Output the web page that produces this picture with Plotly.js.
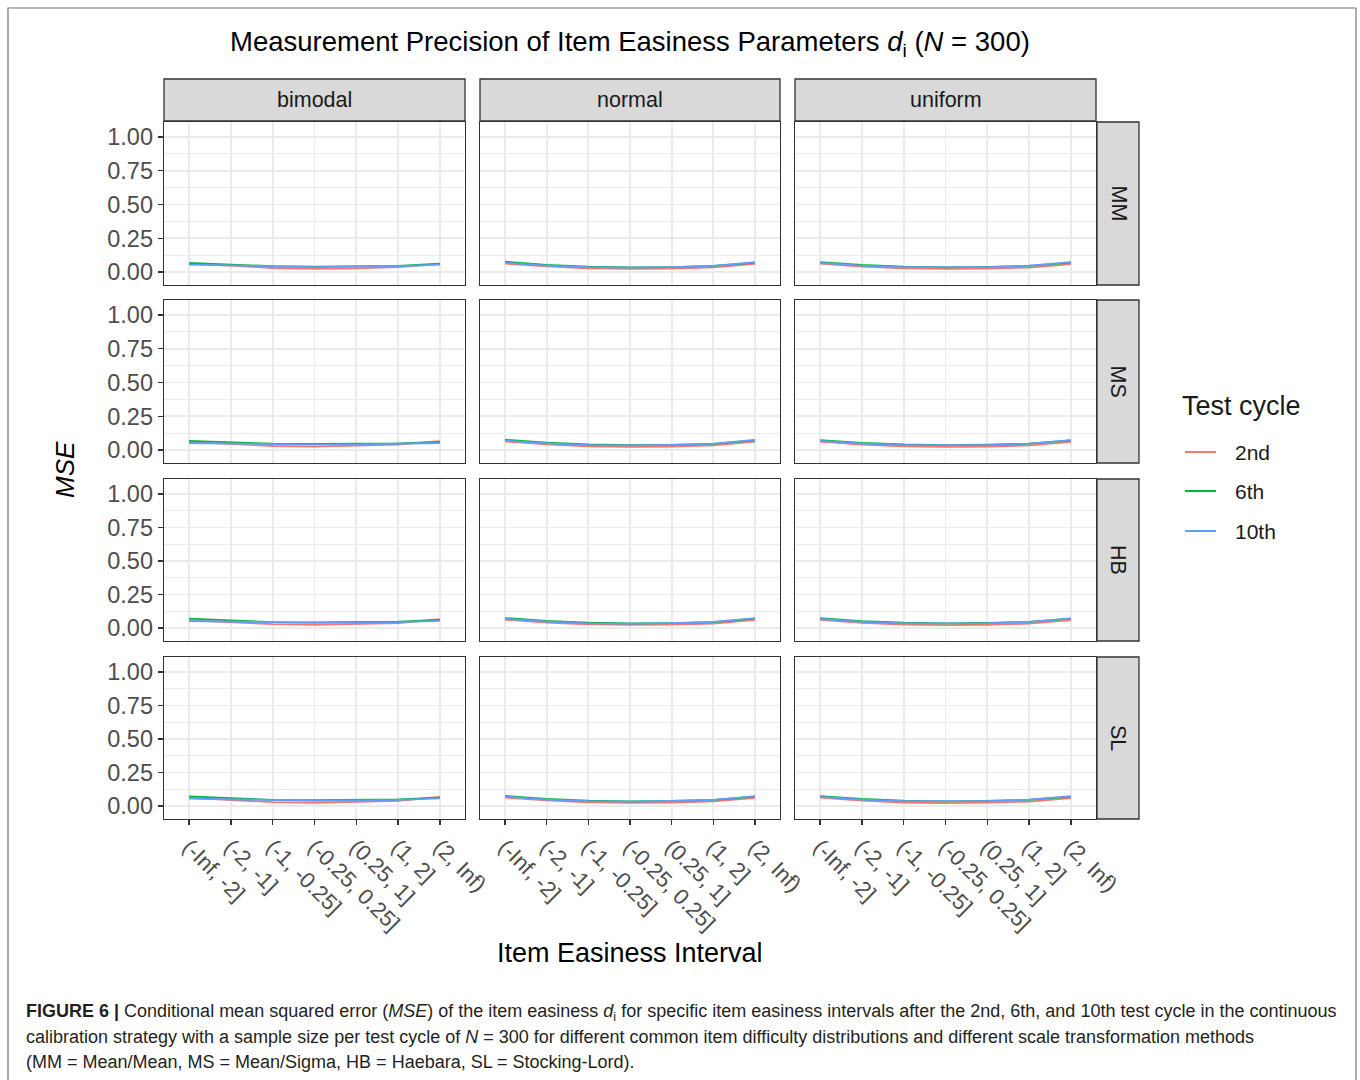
<!DOCTYPE html>
<html>
<head>
<meta charset="utf-8">
<script src="https://cdn.plot.ly/plotly-3.0.1.min.js"></script>
<style>html,body{margin:0;padding:0;background:#fff;}#chart{width:1360px;height:1080px;}</style>
</head>
<body>
<div id="chart"></div>
<script>
// ---- data ----
const categories = ["(-Inf, -2]", "(-2, -1]", "(-1, -0.25]", "(-0.25, 0.25]", "(0.25, 1]", "(1, 2]", "(2, Inf)"];
const cycles = ["2nd", "6th", "10th"];
const distributions = ["bimodal", "normal", "uniform"];
const methods = ["MM", "MS", "HB", "SL"];
const yTicks = [0, 0.25, 0.5, 0.75, 1.0];
const yTickLabels = ["0.00", "0.25", "0.50", "0.75", "1.00"];

// each: [2nd, 6th, 10th]
const MM_bimodal = [[0.060,0.048,0.030,0.024,0.027,0.036,0.060],[0.068,0.053,0.043,0.040,0.043,0.046,0.063],[0.055,0.049,0.040,0.037,0.040,0.043,0.055]];
const MM_normal  = [[0.063,0.042,0.028,0.024,0.026,0.034,0.060],[0.076,0.053,0.040,0.035,0.037,0.045,0.070],[0.069,0.048,0.036,0.033,0.037,0.046,0.074]];
const MM_uniform = [[0.062,0.040,0.027,0.023,0.025,0.033,0.058],[0.074,0.052,0.040,0.035,0.038,0.046,0.070],[0.068,0.047,0.036,0.034,0.037,0.047,0.073]];
const MS_bimodal = [[0.060,0.045,0.030,0.025,0.030,0.040,0.066],[0.068,0.055,0.047,0.045,0.047,0.050,0.060],[0.052,0.048,0.042,0.040,0.042,0.045,0.052]];
const MS_normal  = [[0.064,0.042,0.028,0.024,0.026,0.035,0.062],[0.076,0.054,0.041,0.036,0.038,0.046,0.071],[0.070,0.049,0.037,0.034,0.038,0.047,0.075]];
const MS_uniform = [[0.062,0.041,0.027,0.023,0.026,0.034,0.060],[0.074,0.053,0.041,0.036,0.039,0.047,0.071],[0.068,0.048,0.037,0.035,0.038,0.048,0.074]];
const HB_bimodal = [[0.058,0.046,0.030,0.024,0.029,0.038,0.066],[0.070,0.055,0.045,0.043,0.045,0.048,0.062],[0.053,0.048,0.041,0.039,0.041,0.044,0.054]];
const HB_normal  = [[0.063,0.042,0.028,0.024,0.026,0.034,0.061],[0.075,0.053,0.040,0.035,0.037,0.045,0.070],[0.069,0.048,0.036,0.033,0.037,0.046,0.074]];
const HB_uniform = [[0.062,0.040,0.027,0.023,0.025,0.033,0.059],[0.074,0.052,0.040,0.035,0.038,0.046,0.070],[0.068,0.047,0.036,0.034,0.037,0.047,0.073]];
const SL_bimodal = [[0.062,0.047,0.030,0.024,0.030,0.040,0.068],[0.072,0.057,0.047,0.044,0.046,0.050,0.064],[0.056,0.050,0.042,0.040,0.042,0.046,0.058]];
const SL_normal  = [[0.064,0.043,0.028,0.024,0.026,0.035,0.062],[0.076,0.054,0.041,0.036,0.038,0.046,0.071],[0.070,0.049,0.037,0.034,0.038,0.047,0.075]];
const SL_uniform = [[0.063,0.041,0.027,0.023,0.026,0.034,0.060],[0.075,0.053,0.041,0.036,0.039,0.047,0.071],[0.069,0.048,0.037,0.035,0.038,0.048,0.074]];

const panelData = {
  MM: [MM_bimodal, MM_normal, MM_uniform],
  MS: [MS_bimodal, MS_normal, MS_uniform],
  HB: [HB_bimodal, HB_normal, HB_uniform],
  SL: [SL_bimodal, SL_normal, SL_uniform]
};

// ---- styling / geometry ----
const W = 1360, H = 1080;
const colors = ["#F8766D", "#00BA38", "#619CFF"];
const colPx = [[164, 465], [480, 780], [795, 1096]];
const rowPx = [[122, 285], [300, 463], [479, 641], [657, 819]];
const stripTop = [79, 121];
const stripRight = [1097, 1139];
const px = v => v / W;
const py = v => 1 - v / H;
const FONT = "Liberation Sans, Arial, Helvetica, sans-serif";
const dark = "#333333";

const traces = [];
const layout = {
  width: W, height: H,
  margin: {l: 0, r: 0, t: 0, b: 0},
  paper_bgcolor: "#ffffff",
  plot_bgcolor: "#ffffff",
  font: {family: FONT, color: "#1a1a1a"},
  showlegend: false,
  shapes: [],
  annotations: []
};

methods.forEach((m, r) => {
  distributions.forEach((d, c) => {
    const n = r * 3 + c + 1;
    const xa = n === 1 ? "xaxis" : "xaxis" + n;
    const ya = n === 1 ? "yaxis" : "yaxis" + n;
    const xr = n === 1 ? "x" : "x" + n;
    const yr = n === 1 ? "y" : "y" + n;
    const isBottom = r === methods.length - 1;
    const isLeft = c === 0;
    layout[xa] = {
      domain: [px(colPx[c][0]), px(colPx[c][1])],
      anchor: yr,
      type: "category",
      categoryorder: "array",
      categoryarray: categories,
      range: [-0.6, categories.length - 0.4],
      showgrid: true, gridcolor: "#ebebeb", gridwidth: 1.8,
      zeroline: false,
      showline: true, mirror: true, linecolor: dark, linewidth: 1.3,
      ticks: isBottom ? "outside" : "", ticklen: 5, tickwidth: 1.3, tickcolor: dark,
      showticklabels: isBottom,
      tickangle: 45,
      tickfont: {size: 22, color: "#4d4d4d", family: FONT},
      fixedrange: true
    };
    layout[ya] = {
      domain: [py(rowPx[r][1]), py(rowPx[r][0])],
      anchor: xr,
      range: [-0.096, 1.111],
      tickvals: yTicks, ticktext: yTickLabels,
      showgrid: true, gridcolor: "#ebebeb", gridwidth: 1.8,
      minor: {dtick: 0.125, tick0: 0, showgrid: true, gridcolor: "#ebebeb", gridwidth: 1, ticks: ""},
      zeroline: false,
      showline: true, mirror: true, linecolor: dark, linewidth: 1.3,
      ticks: isLeft ? "outside" : "", ticklen: 5, tickwidth: 1.3, tickcolor: dark,
      showticklabels: isLeft,
      tickfont: {size: 23.5, color: "#4d4d4d", family: FONT},
      fixedrange: true
    };
    const vals = panelData[m][c];
    cycles.forEach((cy, k) => {
      traces.push({
        type: "scatter", mode: "lines",
        x: categories, y: vals[k],
        xaxis: xr, yaxis: yr,
        name: cy, legendgroup: cy,
        showlegend: false,
        line: {color: colors[k], width: 1.8},
        hoverinfo: "skip"
      });
    });
  });
});

// top strips
distributions.forEach((d, c) => {
  layout.shapes.push({type: "rect", xref: "paper", yref: "paper",
    x0: px(colPx[c][0]), x1: px(colPx[c][1]), y0: py(stripTop[1]), y1: py(stripTop[0]),
    fillcolor: "#d9d9d9", line: {color: dark, width: 1.3}, layer: "below"});
  layout.annotations.push({xref: "paper", yref: "paper",
    x: px((colPx[c][0] + colPx[c][1]) / 2), y: py((stripTop[0] + stripTop[1]) / 2),
    text: d, showarrow: false, xanchor: "center", yanchor: "middle",
    font: {size: 21.5, color: "#1a1a1a", family: FONT}});
});
// right strips
methods.forEach((m, r) => {
  layout.shapes.push({type: "rect", xref: "paper", yref: "paper",
    x0: px(stripRight[0]), x1: px(stripRight[1]), y0: py(rowPx[r][1]), y1: py(rowPx[r][0]),
    fillcolor: "#d9d9d9", line: {color: dark, width: 1.3}, layer: "below"});
  layout.annotations.push({xref: "paper", yref: "paper",
    x: px((stripRight[0] + stripRight[1]) / 2), y: py((rowPx[r][0] + rowPx[r][1]) / 2),
    text: m, showarrow: false, xanchor: "center", yanchor: "middle", textangle: 90,
    font: {size: 21.5, color: "#1a1a1a", family: FONT}});
});

// legend (drawn as key lines + labels)
const legendItemY = [452, 491, 531];
layout.annotations.push({xref: "paper", yref: "paper", x: px(1180), y: py(406),
  xanchor: "left", yanchor: "middle", showarrow: false,
  text: "Test cycle", font: {size: 27, color: "#1a1a1a", family: FONT}});
cycles.forEach((cy, k) => {
  layout.shapes.push({type: "line", xref: "paper", yref: "paper",
    x0: px(1185), x1: px(1216), y0: py(legendItemY[k]), y1: py(legendItemY[k]),
    line: {color: colors[k], width: 2}});
  layout.annotations.push({xref: "paper", yref: "paper", x: px(1233), y: py(legendItemY[k]),
    xanchor: "left", yanchor: "middle", showarrow: false,
    text: cy, font: {size: 21, color: "#1a1a1a", family: FONT}});
});

// outer frame
layout.shapes.push({type: "rect", xref: "paper", yref: "paper",
  x0: px(8), x1: px(1356), y0: -0.02, y1: py(8),
  line: {color: "#777777", width: 1.2}, fillcolor: "rgba(0,0,0,0)", layer: "below"});

// title
layout.annotations.push({xref: "paper", yref: "paper", x: px(630), y: py(43),
  xanchor: "center", yanchor: "middle", showarrow: false,
  text: "Measurement Precision of Item Easiness Parameters <i>d</i><sub>i</sub> (<i>N</i> = 300)",
  font: {size: 27.5, color: "#000000", family: FONT}});
// axis titles
layout.annotations.push({xref: "paper", yref: "paper", x: px(65), y: py(470),
  xanchor: "center", yanchor: "middle", showarrow: false, textangle: -90,
  text: "<i>MSE</i>", font: {size: 26, color: "#000000", family: FONT}});
layout.annotations.push({xref: "paper", yref: "paper", x: px(630), y: py(953),
  xanchor: "center", yanchor: "middle", showarrow: false,
  text: "Item Easiness Interval", font: {size: 27, color: "#000000", family: FONT}});

// caption
const captionLines = [
  "<b>FIGURE 6 |</b> Conditional mean squared error (<i>MSE</i>) of the item easiness <i>d</i><sub>i</sub> for specific item easiness intervals after the 2nd, 6th, and 10th test cycle in the continuous",
  "calibration strategy with a sample size per test cycle of <i>N</i> = 300 for different common item difficulty distributions and different scale transformation methods",
  "(MM = Mean/Mean, MS = Mean/Sigma, HB = Haebara, SL = Stocking-Lord)."
];
const captionY = [1012, 1037, 1062];
captionLines.forEach((t, i) => {
  layout.annotations.push({xref: "paper", yref: "paper", x: px(24), y: py(captionY[i]),
    xanchor: "left", yanchor: "middle", showarrow: false, align: "left",
    text: t, font: {size: 18, color: "#231f20", family: FONT}});
});

Plotly.newPlot("chart", traces, layout, {staticPlot: true, displayModeBar: false});
</script>
</body>
</html>
